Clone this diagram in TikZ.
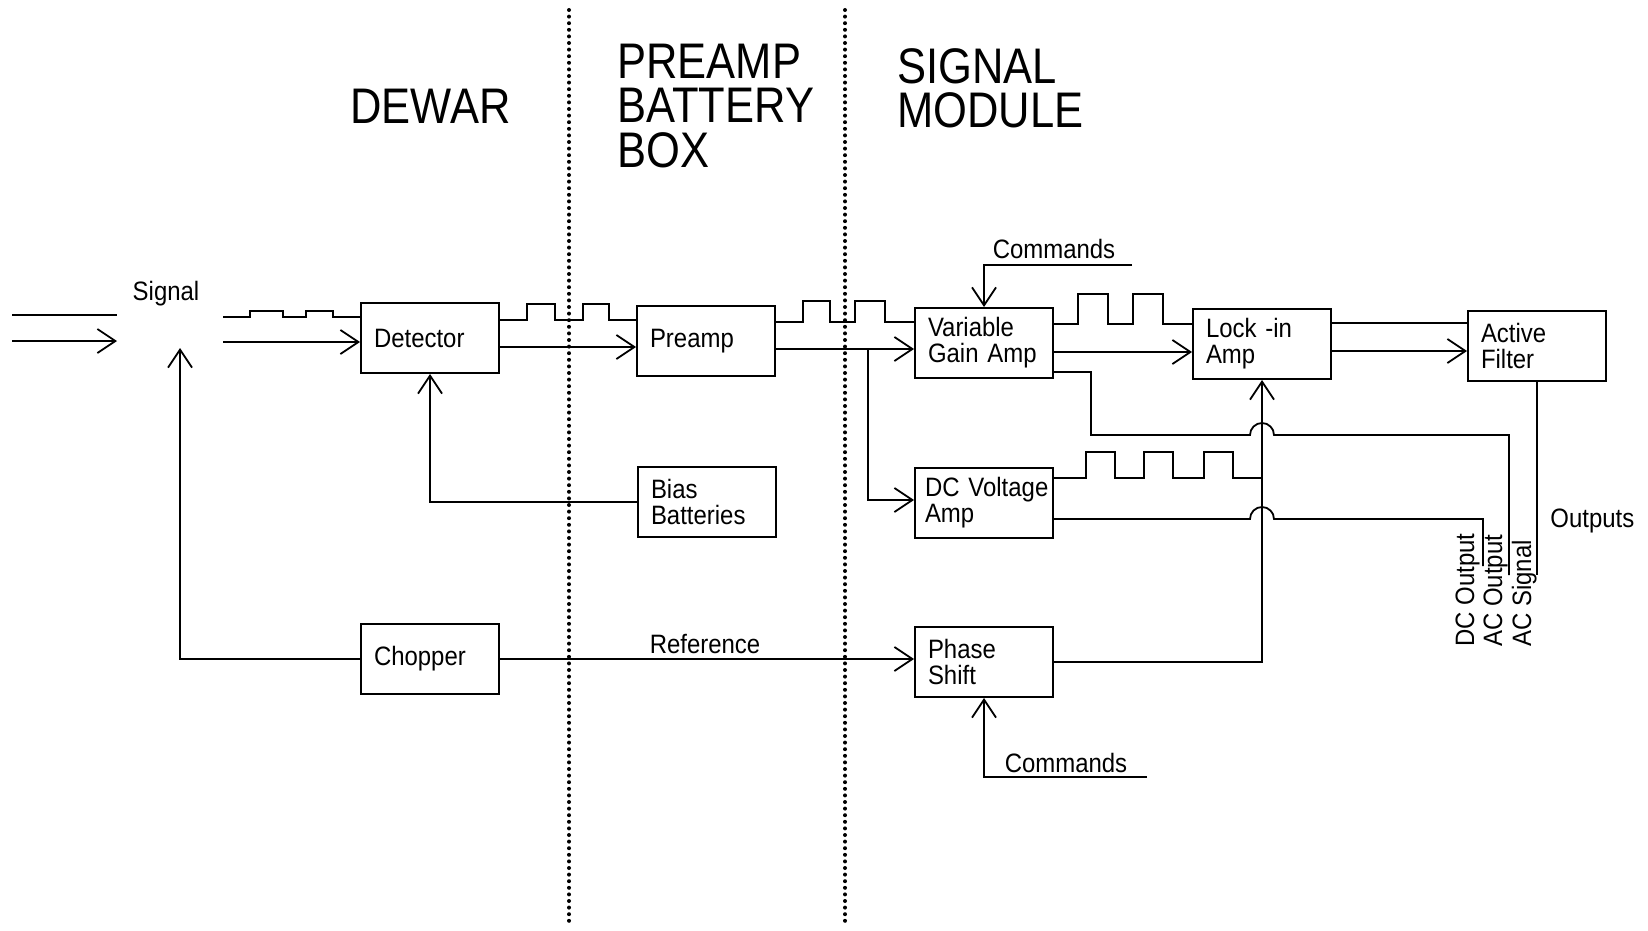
\documentclass[tikz,border=0pt]{standalone}
\usepackage{fontspec}
\setmainfont[FakeStretch=0.9]{Liberation Sans}
\newfontfamily\titlefont[FakeStretch=0.87]{Liberation Sans}
\usetikzlibrary{arrows.meta,calc}

\tikzset{
  block/.style={draw, line width=1pt, text width=56pt, inner xsep=6.5pt,
    minimum height=35pt, align=left, font=\fontsize{13.3}{13}\selectfont},
  sig/.style={line width=0.9pt},
  feed/.style={sig, -{Straight Barb[length=9pt,width=12pt]}},
  region/.style={line width=2pt, line cap=round, dash pattern=on 0pt off 3.3pt},
  title/.style={font=\titlefont\fontsize{25}{22}\selectfont, align=left, inner sep=0pt},
  lbl/.style={font=\fontsize{13.3}{13}\selectfont, inner sep=0pt},
}

\begin{document}
\begin{tikzpicture}[x=0.5pt, y=-0.5pt]
\useasboundingbox (0,0) rectangle (1648,931);

% borders between the three units
\draw[region] (569,10) -- (569,927);
\draw[region] (845,10) -- (845,925);

% base of a multi-line title is its last line
\node[title, anchor=base west] (dewar) at (350,124) {DEWAR};
\node[title, anchor=base west] (pbox) at (617,167) {PREAMP\\BATTERY\\BOX};
\node[title, anchor=base west] (smod) at (897,127) {SIGNAL\\MODULE};

% blocks
\node[block] (det) at (430,338) {Detector};
\node[block] (pre) at (706,341) {Preamp};
\node[block] (bias) at (707,502) {Bias\\Batteries};
\node[block] (chop) at (430,659) {Chopper};
\node[block] (vga) at (984,343) {Variable\\Gain Amp};
\node[block] (lock) at (1262,344) {Lock -in\\Amp};
\node[block] (filt) at (1537,346) {Active\\Filter};
\node[block, inner xsep=5pt, text width=59pt] (dcv) at (984,503) {\mbox{DC Voltage}\\Amp};
\node[block] (phs) at (984,662) {Phase\\Shift};

% incoming signal
\coordinate (inA) at (12,315);
\coordinate (inB) at (12,341);
\coordinate (inC) at (117,315);
\coordinate (inD) at (117,341);
\draw[sig] (inA) -- (inC);
\draw[feed] (inB) -- (inD);
\node[lbl, anchor=base] (signal) at (166,300) {Signal};

% chopped signal into detector
\coordinate (chA) at (223,317);
\coordinate (chB) at (223,342);
\draw[sig] (chA) -- (250,317) -- (250,311) -- (283,311) -- (283,317) -- (306,317)
  -- (306,311) -- (333,311) -- (333,317) -- (det.west |- chA);
\draw[feed] (chB) -- (det.west |- chB);

% detector to preamp
\draw[sig] (det.east |- 0,320) -- (527,320) -- (527,304) -- (555,304) -- (555,320)
  -- (583,320) -- (583,304) -- (609,304) -- (609,320) -- (pre.west |- 0,320);
\draw[feed] (det.east |- 0,347) -- (pre.west |- 0,347);
\draw[feed] (bias.west) -| (det.south);

% preamp to signal module
\draw[sig] (pre.east |- 0,322) -- (803,322) -- (803,301) -- (830,301) -- (830,322)
  -- (855,322) -- (855,301) -- (885,301) -- (885,322) -- (vga.west |- 0,322);
\draw[feed] (pre.east |- 0,349) -- (vga.west |- 0,349);
\coordinate (split) at (868,349);
\draw[feed] (split) |- (dcv.west |- 0,500);

% commands
\coordinate (cmdvga) at (1132,265);
\draw[feed] (cmdvga) -| (vga.north);
\node[lbl, anchor=base] (cmdtop) at (1054,258) {Commands};
\coordinate (cmdphs) at (1147,777);
\draw[feed] (cmdphs) -| (phs.south);
\node[lbl, anchor=base] (cmdbot) at (1066,772) {Commands};

% gain amp to lock-in
\draw[sig] (vga.east |- 0,324) -- (1078,324) -- (1078,294) -- (1108,294) -- (1108,324)
  -- (1133,324) -- (1133,294) -- (1163,294) -- (1163,324) -- (lock.west |- 0,324);
\draw[feed] (vga.east |- 0,352) -- (lock.west |- 0,352);

% lock-in to filter
\draw[sig] (lock.east |- 0,323) -- (filt.west |- 0,323);
\draw[feed] (lock.east |- 0,351) -- (filt.west |- 0,351);

% reference
\draw[feed] (chop.east) -- (chop.east -| phs.west);
\node[lbl, anchor=base] (ref) at (705,653) {Reference};
\draw[feed] (phs.east) -| (lock.south);
\coordinate (sigin) at (180,348);
\draw[feed] (chop.west) -| (sigin);

% dc amp
\draw[sig] (dcv.east |- 0,478) -- (1086,478) -- (1086,452) -- (1115,452) -- (1115,478)
  -- (1144,478) -- (1144,452) -- (1173,452) -- (1173,478) -- (1204,478)
  -- (1204,452) -- (1233,452) -- (1233,478) -- (lock.south |- 0,478);

% outputs
\coordinate (acout) at (1509,575);
\coordinate (dcout) at (1483,566);
\coordinate (acsig) at (1537,575);
\draw[sig] (vga.east |- 0,372) -| (1091,435) -- (1250,435) arc (180:360:12)
  -- (1509,435) -- (acout);
\draw[sig] (dcv.east |- 0,519) -- (1250,519) arc (180:360:12) -- (1483,519) -- (dcout);
\draw[sig] (filt.south) -- (acsig);
\node[lbl, anchor=base west] (outs) at (1550,527) {Outputs};
\node[lbl, rotate=90, anchor=base west] (dclbl) at (1474,647) {DC Output};
\node[lbl, rotate=90, anchor=base west] (aclbl) at (1502,647) {AC Output};
\node[lbl, rotate=90, anchor=base west] (siglbl) at (1531,647) {AC Signal};
\end{tikzpicture}
\end{document}
